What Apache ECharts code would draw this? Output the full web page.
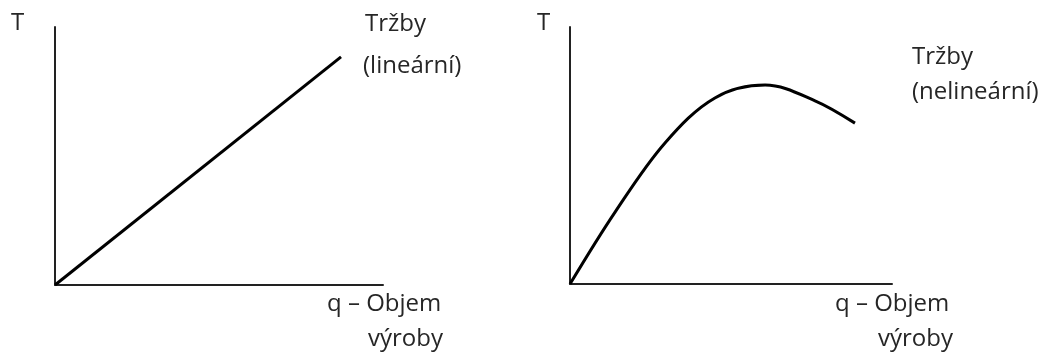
<!DOCTYPE html>
<html>
<head>
<meta charset="utf-8">
<script src="https://cdn.jsdelivr.net/npm/echarts@6/dist/echarts.min.js"></script>
<style>
  html, body { margin: 0; padding: 0; background: #fff; }
  #chart { width: 1062px; height: 359px; }
</style>
</head>
<body>
<div id="chart"></div>
<script>
// Tržby lineární (q, T)
const linearQ = [0, 87.2];
const linearT = [0, 88.4];

// Tržby nelineární (q, T)
const nonlinearQ = [0, 14.0, 29.5, 45.0, 60.6, 76.1, 88.5];
const nonlinearT = [0, 28.0, 54.9, 72.4, 77.4, 71.3, 62.6];

// texty
const yAxisLabel = 'T';
const xAxisLabels = ['q – Objem', 'výroby'];
const leftSeriesLabels = ['Tržby', '(lineární)'];
const rightSeriesLabels = ['Tržby', '(nelineární)'];

const FONT = '24px "Open Sans"';
const TEXT_COLOR = '#262626';

function pairs(xs, ys) {
    return xs.map((x, i) => [x, ys[i]]);
}

function axis(gridIndex) {
    return {
        type: 'value',
        gridIndex: gridIndex,
        min: 0,
        max: 100,
        axisLine: { show: true, onZero: false, lineStyle: { color: '#222', width: 2 } },
        axisTick: { show: false },
        axisLabel: { show: false },
        splitLine: { show: false }
    };
}

function txt(x, baseline, text) {
    return {
        type: 'text',
        style: {
            x: x,
            y: baseline - 9,
            text: text,
            font: FONT,
            fill: TEXT_COLOR,
            verticalAlign: 'middle'
        }
    };
}

const chart = echarts.init(document.getElementById('chart'));

const option = {
    animation: false,
    grid: [
        { left: 55, top: 27, width: 328, height: 258 },
        { left: 570, top: 27, width: 322, height: 257 }
    ],
    xAxis: [axis(0), axis(1)],
    yAxis: [axis(0), axis(1)],
    series: [
        {
            type: 'line',
            xAxisIndex: 0,
            yAxisIndex: 0,
            data: pairs(linearQ, linearT),
            showSymbol: false,
            lineStyle: { color: '#000', width: 3 }
        },
        {
            type: 'line',
            xAxisIndex: 1,
            yAxisIndex: 1,
            data: pairs(nonlinearQ, nonlinearT),
            smooth: 0.35,
            smoothMonotone: 'none',
            showSymbol: false,
            lineStyle: { color: '#000', width: 3 }
        }
    ],
    graphic: [
        txt(11, 32, yAxisLabel),
        txt(365, 33, leftSeriesLabels[0]),
        txt(363, 75, leftSeriesLabels[1]),
        txt(327, 313, xAxisLabels[0]),
        txt(368, 348, xAxisLabels[1]),

        txt(537, 32, yAxisLabel),
        txt(912, 66, rightSeriesLabels[0]),
        txt(912, 101, rightSeriesLabels[1]),
        txt(835, 313, xAxisLabels[0]),
        txt(878, 348, xAxisLabels[1])
    ]
};

chart.setOption(option);
</script>
</body>
</html>
